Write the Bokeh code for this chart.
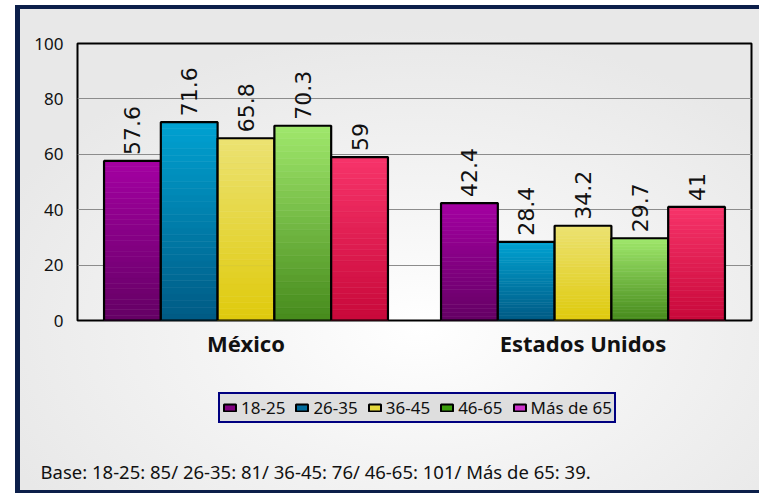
import numpy as np
from bokeh.plotting import figure
from bokeh.layouts import column
from bokeh.models import (FactorRange, FixedTicker, Legend, LegendItem,
                          ColumnDataSource, Range1d, Title)
from bokeh.transform import dodge
from bokeh.core.properties import value
from bokeh.embed import file_html
from bokeh.resources import INLINE

# ---------------- data ----------------
countries = ["México", "Estados Unidos"]
age_groups = ["18-25", "26-35", "36-45", "46-65", "Más de 65"]
v_18_25 = [57.6, 42.4]
v_26_35 = [71.6, 28.4]
v_36_45 = [65.8, 34.2]
v_46_65 = [70.3, 29.7]
v_mas_65 = [59, 41]
y_ticks = [0, 20, 40, 60, 80, 100]
footer_text = "Base: 18-25: 85/ 26-35: 81/ 36-45: 76/ 46-65: 101/ Más de 65: 39."

series = [v_18_25, v_26_35, v_36_45, v_46_65, v_mas_65]

# ---------------- styles ----------------
top_colors = ["#a400a2", "#00a2d2", "#ece272", "#a0e86c", "#f7346a"]
bottom_colors = ["#640064", "#005a84", "#dfca0c", "#468a1c", "#c8083a"]
legend_colors = ["#800080", "#006b9c", "#e4d83c", "#3c9e0c", "#cc33cc"]

W = 739
H1, H2 = 351, 127
FL, FT, FR, FB = 57, 34, 731, 311   # frame in canvas px of main figure

p = figure(width=W, height=H1, x_range=FactorRange(factors=countries),
           y_range=Range1d(0, 100), output_backend="svg", toolbar_location=None,
           min_border_left=FL, min_border_top=FT, min_border_right=W - FR,
           min_border_bottom=H1 - FB)
p.border_fill_alpha = 0
p.background_fill_alpha = 0
p.outline_line_color = "black"
p.outline_line_width = 2

p.xgrid.grid_line_color = None
p.ygrid.grid_line_color = "#8c8c8c"
p.ygrid.grid_line_width = 1
p.yaxis.ticker = FixedTicker(ticks=y_ticks)
p.yaxis.axis_line_color = None
p.yaxis.major_tick_line_color = None
p.yaxis.minor_tick_line_color = None
p.yaxis.major_tick_out = 0
p.yaxis.minor_tick_out = 0
p.yaxis.major_label_standoff = 14
p.yaxis.major_label_text_font = "Noto Sans"
p.yaxis.major_label_text_font_size = "17px"
p.yaxis.major_label_text_color = "#111111"

p.xaxis.axis_line_color = None
p.xaxis.major_tick_line_color = None
p.xaxis.minor_tick_line_color = None
p.xaxis.major_tick_out = 0
p.xaxis.minor_tick_out = 0
p.xaxis.major_label_standoff = 7
p.xaxis.major_label_text_font = "Noto Sans"
p.xaxis.major_label_text_font_style = "bold"
p.xaxis.major_label_text_font_size = "22px"
p.xaxis.major_label_text_color = "#111111"


def hex2rgb(h):
    h = h.lstrip("#")
    return np.array([int(h[i:i + 2], 16) for i in (0, 2, 4)], dtype=float)


def rgb2hex(c):
    return "#%02x%02x%02x" % tuple(int(round(x)) for x in c)


bar_w = 0.1685
offsets = [(-2 + i) * bar_w for i in range(5)]
N = 30

# lower panel: legend + footnote (its frame is aligned with the main frame)
p2 = figure(width=W, height=H2, x_range=Range1d(0, 1), y_range=Range1d(0, 1),
            output_backend="svg", toolbar_location=None,
            min_border_left=FL, min_border_right=W - FR, min_border_top=0,
            min_border_bottom=0, x_axis_type=None, y_axis_type=None)
p2.grid.grid_line_color = None
p2.outline_line_color = None
p2.border_fill_alpha = 0
p2.background_fill_alpha = 0

legend_items = []
for i, vals in enumerate(series):
    c0, c1 = hex2rgb(bottom_colors[i]), hex2rgb(top_colors[i])
    xs, bots, tops, cols = [], [], [], []
    for j, v in enumerate(vals):
        for k in range(N):
            xs.append(countries[j])
            bots.append(v * k / N)
            tops.append(v * (k + 1) / N)
            cols.append(rgb2hex(c0 + (c1 - c0) * (k + 0.5) / N))
    src = ColumnDataSource(dict(x=xs, bottom=bots, top=tops, color=cols))
    p.vbar(x=dodge("x", offsets[i], range=p.x_range), bottom="bottom", top="top",
           width=bar_w, fill_color="color", line_color="color", line_width=0.6, source=src)

    bsrc = ColumnDataSource(dict(x=countries, top=vals,
                                 label=[f"{v:g}" for v in vals]))
    p.vbar(x=dodge("x", offsets[i], range=p.x_range), top="top", width=bar_w,
           fill_color=None, line_color="black", line_width=2.2, source=bsrc)
    p.text(x=dodge("x", offsets[i], range=p.x_range), y="top", text="label", source=bsrc,
           angle=np.pi / 2, text_align="left", text_baseline="middle", y_offset=-6,
           text_font=value("DejaVu Sans"), text_font_size="22px", text_color="#111111")

    # legend swatch renderer: a tiny mark hidden behind the opaque legend box
    dummy = p2.vbar(x=[0.5], top=[0.42], bottom=[0.40], width=0.01,
                    fill_color=legend_colors[i], line_color="black", line_width=2)
    legend_items.append(LegendItem(label=age_groups[i], renderers=[dummy]))

legend = Legend(items=legend_items, orientation="horizontal", location=(141, 29),
                border_line_color="#000080", border_line_width=2, border_line_alpha=1,
                background_fill_color="#dedede", background_fill_alpha=1,
                label_text_font="Noto Sans", label_text_font_size="17px",
                label_text_color="#111111", glyph_width=15, glyph_height=9,
                label_standoff=4, spacing=9, padding=2, margin=0, label_height=16)
p2.add_layout(legend, "center")

footer = Title(text=footer_text, align="left", offset=-37, standoff=8,
               text_font="Noto Sans", text_font_size="18.5px", text_color="#111111",
               text_font_style="normal")
p2.add_layout(footer, "below")

layout = column(p, p2, spacing=0, width=W + 5, height=351 + 130 + 7,
                styles={
                    "margin-left": "15px",
                    "margin-top": "5px",
                    "border-left": "5px solid #0c1f4a",
                    "border-top": "4px solid #0c1f4a",
                    "border-bottom": "3px solid #0c1f4a",
                    "background": "radial-gradient(ellipse 62% 62% at 54% 66%, #ffffff 0%, #f4f4f4 45%, #e8e8e8 100%)",
                })

open("out.html", "w").write(file_html(layout, INLINE))
